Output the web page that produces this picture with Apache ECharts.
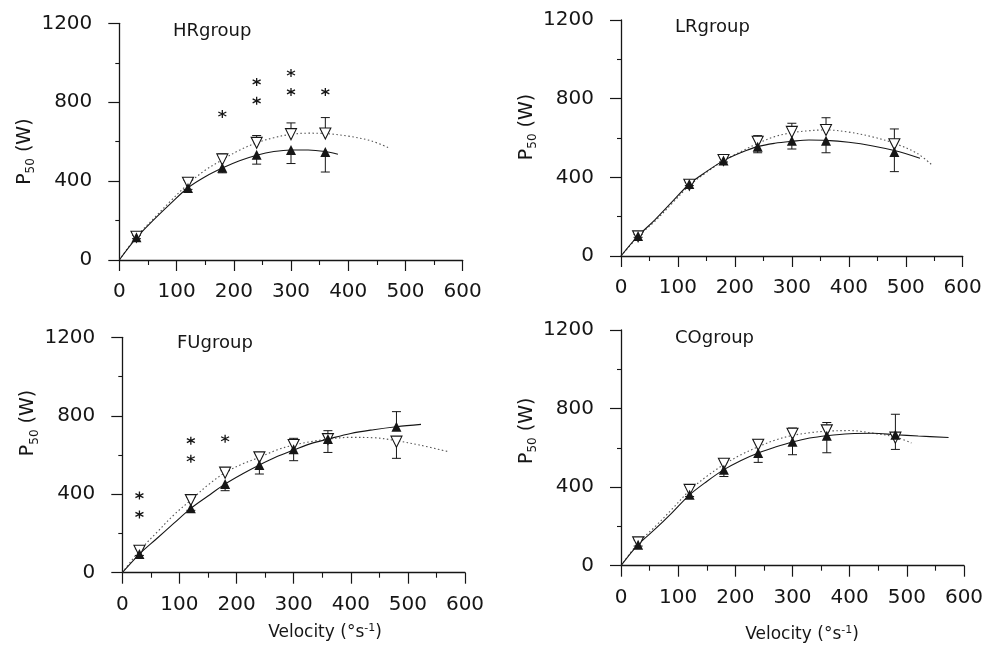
<!DOCTYPE html>
<html>
<head>
<meta charset="utf-8">
<script src="https://cdn.jsdelivr.net/npm/echarts@6/dist/echarts.min.js"></script>
<style>
  html, body { margin: 0; padding: 0; background: #fff; }
  #chart { width: 988px; height: 646px; }
</style>
</head>
<body>
<div id="chart"></div>
<script>
// Angular velocities (deg/s) tested in each group
const hrVelocity = [30, 120, 180, 240, 300, 360];
const lrVelocity = [30, 120, 180, 240, 300, 360, 480];
const fuVelocity = [30, 120, 180, 240, 300, 360, 480];
const coVelocity = [30, 120, 180, 240, 300, 360, 480];

// Mean P50 (W): filled = first test, open = second test
const hrFilled = [115, 365, 468, 533, 558, 548];
const hrOpen = [118, 392, 510, 594, 638, 641];
const lrFilled = [102, 366, 485, 556, 586, 586, 529];
const lrOpen = [100, 362, 488, 581, 631, 641, 568];
const fuFilled = [95, 328, 452, 549, 629, 681, 744];
const fuOpen = [112, 370, 510, 588, 651, 681, 668];
const coFilled = [107, 361, 489, 574, 631, 662, 667];
const coOpen = [119, 386, 519, 616, 672, 689, 652];

// Ends of the SD bars (W)
const hrFilledBar = [108, 358, 442, 486, 489, 446];
const hrOpenBar = [126, 405, 537, 631, 695, 722];
const lrFilledBar = [95, 358, 478, 525, 544, 525, 429];
const lrOpenBar = [110, 374, 500, 612, 675, 703, 646];
const fuFilledBar = [88, 318, 418, 503, 571, 613, 821];
const fuOpenBar = [122, 384, 520, 613, 685, 724, 583];
const coFilledBar = [100, 352, 454, 526, 565, 575, 771];
const coOpenBar = [131, 400, 540, 642, 701, 729, 592];

// Fitted power-velocity curves [velocity, W]
const hrFitFilled = [[0,0],[30,112],[60,203],[90,287],[120,366],[150,422],[180,466],[210,503],[240,531],[270,550],[300,558],[330,558],[360,550],[382,536]];
const hrFitOpen = [[0,0],[30,118],[60,210],[90,300],[120,385],[150,455],[180,508],[210,557],[240,594],[270,620],[300,637],[330,643],[360,641],[400,628],[440,604],[472,567]];
const lrFitFilled = [[0,0],[30,102],[60,185],[90,276],[120,366],[150,429],[180,485],[210,525],[240,556],[270,573],[300,583],[330,590],[360,588],[400,578],[440,561],[480,536],[525,497]];
const lrFitOpen = [[0,0],[30,98],[60,178],[90,268],[120,358],[150,425],[180,484],[210,530],[240,572],[270,607],[300,627],[330,637],[360,641],[400,630],[440,607],[480,573],[520,522],[546,463]];
const fuFitFilled = [[0,0],[30,95],[60,173],[90,251],[120,328],[150,391],[180,452],[210,503],[240,549],[270,591],[300,625],[330,658],[360,681],[400,710],[440,729],[480,744],[523,756]];
const fuFitOpen = [[0,0],[30,112],[60,204],[90,294],[120,370],[150,447],[180,510],[210,554],[240,588],[270,625],[300,651],[330,668],[360,681],[400,690],[440,688],[480,673],[520,651],[571,617]];
const coFitFilled = [[0,0],[30,107],[60,187],[90,272],[120,361],[150,429],[180,489],[210,536],[240,574],[270,604],[300,630],[330,650],[360,662],[400,672],[440,674],[480,667],[520,660],[573,653]];
const coFitOpen = [[0,0],[30,115],[60,200],[90,290],[120,383],[150,455],[180,515],[210,565],[240,605],[270,640],[300,663],[330,677],[360,685],[400,688],[440,675],[480,655],[508,625]];

// Significance marks (asterisks) [velocity, W]
const hrStars = [[180,740],[240,807],[240,903],[300,852],[300,948],[360,852]];
const fuStars = [[30,393],[30,297],[120,673],[120,581],[180,683]];

// Axis ticks
const xTicks = [0, 100, 200, 300, 400, 500, 600];
const yTicks = [0, 400, 800, 1200];

const groupNames = ['HRgroup', 'LRgroup', 'FUgroup', 'COgroup'];

const FONT = 'DejaVu Sans';
const INK = '#161616';

const groups = [
  { v: hrVelocity, f: hrFilled, o: hrOpen, fb: hrFilledBar, ob: hrOpenBar, ff: hrFitFilled, fo: hrFitOpen, stars: hrStars },
  { v: lrVelocity, f: lrFilled, o: lrOpen, fb: lrFilledBar, ob: lrOpenBar, ff: lrFitFilled, fo: lrFitOpen, stars: [] },
  { v: fuVelocity, f: fuFilled, o: fuOpen, fb: fuFilledBar, ob: fuOpenBar, ff: fuFitFilled, fo: fuFitOpen, stars: fuStars },
  { v: coVelocity, f: coFilled, o: coOpen, fb: coFilledBar, ob: coOpenBar, ff: coFitFilled, fo: coFitOpen, stars: [] }
];

// Panel layout (pixels)
const layout = [
  { grid: { left: 119.3, top: 23.3, width: 343.4, height: 236.7 }, title: [173, 31], nameShift: 10, nameGap: 82 },
  { grid: { left: 621, top: 20, width: 341.7, height: 236 }, title: [675, 27], nameShift: -11, nameGap: 82 },
  { grid: { left: 122.3, top: 337.3, width: 342.7, height: 235.4 }, title: [177, 343], nameShift: -32, nameGap: 78 },
  { grid: { left: 621, top: 330, width: 343, height: 235.7 }, title: [675, 338], nameShift: -17, nameGap: 78 }
];

const velocityLabels = [
  { x: 325, y: 633 },
  { x: 802, y: 635 }
];

function errorBar(params, api) {
  const x = api.value(0), y = api.value(1), e = api.value(2);
  const p1 = api.coord([x, y]);
  const p2 = api.coord([x, e]);
  const st = { stroke: INK, lineWidth: 1 };
  return {
    type: 'group',
    children: [
      { type: 'line', shape: { x1: p1[0], y1: p1[1], x2: p2[0], y2: p2[1] }, style: st },
      { type: 'line', shape: { x1: p2[0] - 4.5, y1: p2[1], x2: p2[0] + 4.5, y2: p2[1] }, style: st }
    ]
  };
}

const ASTERISK = 'path://M5,0L5,10M0.67,2.5L9.33,7.5M0.67,7.5L9.33,2.5';

const grid = [], xAxis = [], yAxis = [], series = [], graphic = [];

groups.forEach((g, i) => {
  const L = layout[i];
  grid.push(Object.assign({ containLabel: false }, L.grid));
  xAxis.push({
    gridIndex: i, type: 'value', min: xTicks[0], max: xTicks[xTicks.length - 1],
    interval: xTicks[1] - xTicks[0],
    axisLine: { show: true, onZero: false, lineStyle: { color: INK, width: 1.3 } },
    axisTick: { show: true, length: 11, lineStyle: { color: INK, width: 1.2 } },
    minorTick: { show: true, splitNumber: 2, length: 5, lineStyle: { color: INK, width: 1.1 } },
    splitLine: { show: false },
    axisLabel: { fontSize: 20, fontFamily: FONT, color: INK, margin: 22, formatter: v => String(v) }
  });
  yAxis.push({
    gridIndex: i, type: 'value', min: yTicks[0], max: yTicks[yTicks.length - 1],
    interval: yTicks[1] - yTicks[0],
    name: '{p|P}{s|50}{p| (W)}',
    nameLocation: 'middle', nameGap: L.nameGap,
    nameTextStyle: {
      padding: L.nameShift > 0 ? [0, 2 * L.nameShift, 0, 0] : [0, 0, 0, -2 * L.nameShift],
      rich: {
        p: { fontSize: 19, fontFamily: FONT, color: INK, lineHeight: 24 },
        s: { fontSize: 12, fontFamily: FONT, color: INK, lineHeight: 12, verticalAlign: 'bottom' }
      }
    },
    axisLine: { show: true, onZero: false, lineStyle: { color: INK, width: 1.3 } },
    axisTick: { show: true, length: 11, lineStyle: { color: INK, width: 1.2 } },
    minorTick: { show: true, splitNumber: 2, length: 4, lineStyle: { color: INK, width: 1.1 } },
    splitLine: { show: false },
    axisLabel: { fontSize: 20, fontFamily: FONT, color: INK, margin: 27, formatter: v => String(v) }
  });

  // fitted curves
  series.push({
    type: 'line', xAxisIndex: i, yAxisIndex: i, data: g.fo, smooth: 0.35,
    showSymbol: false, symbol: 'none', silent: true,
    lineStyle: { color: '#555', width: 1.1, type: [1.5, 2.5] }, z: 2
  });
  series.push({
    type: 'line', xAxisIndex: i, yAxisIndex: i, data: g.ff, smooth: 0.35,
    showSymbol: false, symbol: 'none', silent: true,
    lineStyle: { color: INK, width: 1.1 }, z: 2
  });

  // SD bars
  series.push({
    type: 'custom', xAxisIndex: i, yAxisIndex: i, renderItem: errorBar, clip: false, z: 3,
    data: g.v.map((v, k) => [v, g.o[k], g.ob[k]])
  });
  series.push({
    type: 'custom', xAxisIndex: i, yAxisIndex: i, renderItem: errorBar, clip: false, z: 3,
    data: g.v.map((v, k) => [v, g.f[k], g.fb[k]])
  });

  // open (second test) and filled (first test) markers
  series.push({
    type: 'scatter', xAxisIndex: i, yAxisIndex: i, symbol: 'triangle', symbolRotate: 180, symbolSize: 11,
    itemStyle: { color: '#fff', borderColor: INK, borderWidth: 1.1, opacity: 1 }, z: 4,
    data: g.v.map((v, k) => [v, g.o[k]])
  });
  series.push({
    type: 'scatter', xAxisIndex: i, yAxisIndex: i, symbol: 'triangle', symbolSize: 10,
    itemStyle: { color: INK, opacity: 1 }, z: 5,
    data: g.v.map((v, k) => [v, g.f[k]])
  });

  if (g.stars.length) {
    series.push({
      type: 'scatter', xAxisIndex: i, yAxisIndex: i, symbol: ASTERISK, symbolSize: 8,
      itemStyle: { color: 'transparent', borderColor: INK, borderWidth: 1.3, opacity: 1 }, z: 5,
      data: g.stars
    });
  }

  graphic.push({
    type: 'text', x: L.title[0], y: L.title[1],
    style: { text: groupNames[i], font: '18px "' + FONT + '"', fill: INK, align: 'left', verticalAlign: 'middle' }
  });
});

velocityLabels.forEach(p => {
  graphic.push({
    type: 'text', x: p.x, y: p.y,
    style: {
      text: '{t|Velocity (°s}{u|-1}{t|)}',
      align: 'center', verticalAlign: 'middle',
      rich: {
        t: { fontSize: 17, fontFamily: FONT, fill: INK, lineHeight: 20 },
        u: { fontSize: 11, fontFamily: FONT, fill: INK, lineHeight: 20, verticalAlign: 'top', padding: [0, 0, 8, 0] }
      }
    }
  });
});

const chart = echarts.init(document.getElementById('chart'), null, { renderer: 'canvas' });
chart.setOption({
  backgroundColor: '#fff',
  animation: false,
  grid, xAxis, yAxis, series, graphic
});
</script>
</body>
</html>
